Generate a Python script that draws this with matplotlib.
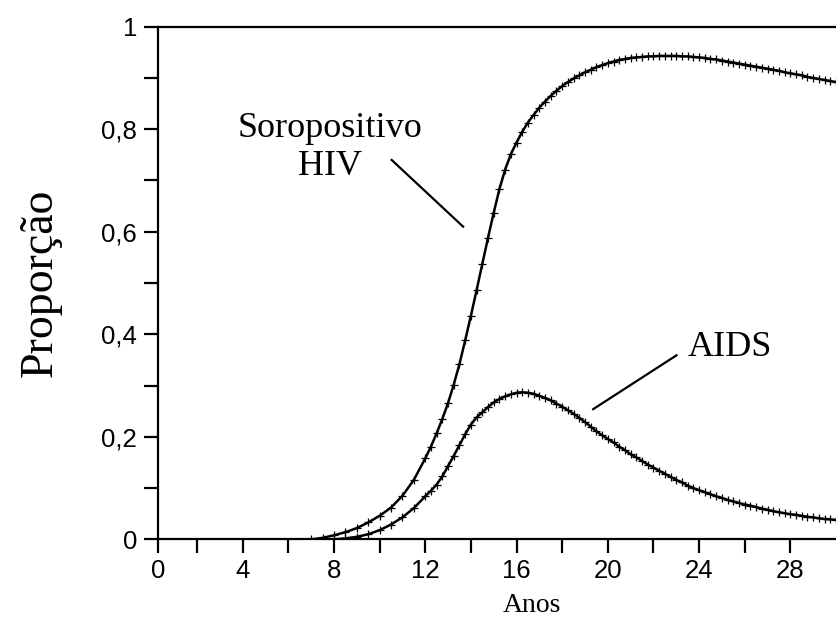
import matplotlib
matplotlib.use("Agg")
import matplotlib.pyplot as plt

# --- data (years, proportion) -----------------------------------------------
hiv_t = [0, 7.0, 7.5, 8.0, 8.5, 9.0, 9.5, 10.0, 10.5, 11.0, 11.5,
         12.0, 12.25, 12.5, 12.75, 13.0, 13.25, 13.5, 13.75, 14.0, 14.25,
         14.5, 14.75, 15.0, 15.25, 15.5, 15.75, 16.0, 16.25, 16.5, 16.75,
         17.0, 17.25, 17.5, 17.75, 18.0, 18.25, 18.5, 18.75, 19.0, 19.25,
         19.5, 19.75, 20.0, 20.25, 20.5, 20.75, 21.0, 21.25, 21.5, 21.75,
         22.0, 22.25, 22.5, 22.75, 23.0, 23.25, 23.5, 23.75, 24.0, 24.25,
         24.5, 24.75, 25.0, 25.25, 25.5, 25.75, 26.0, 26.25, 26.5, 26.75,
         27.0, 27.25, 27.5, 27.75, 28.0, 28.25, 28.5, 28.75, 29.0, 29.25,
         29.5, 29.75, 30.0]
hiv_v = [0.0, 0.0, 0.003, 0.008, 0.014, 0.022, 0.033, 0.046, 0.062, 0.085, 0.116,
         0.158, 0.181, 0.207, 0.235, 0.266, 0.302, 0.342, 0.388, 0.436, 0.486,
         0.537, 0.588, 0.637, 0.683, 0.721, 0.751, 0.774, 0.795, 0.813, 0.828,
         0.842, 0.854, 0.865, 0.875, 0.884, 0.892, 0.899, 0.905, 0.911, 0.916,
         0.921, 0.925, 0.929, 0.932, 0.935, 0.937, 0.939, 0.940, 0.941, 0.942,
         0.942, 0.943, 0.943, 0.943, 0.943, 0.942, 0.942, 0.941, 0.940, 0.939,
         0.937, 0.936, 0.934, 0.932, 0.930, 0.928, 0.926, 0.924, 0.922, 0.920,
         0.918, 0.916, 0.914, 0.911, 0.909, 0.907, 0.905, 0.902, 0.900, 0.898,
         0.896, 0.894, 0.892]

aids_t = [0, 8.0, 8.5, 9.0, 9.5, 10.0, 10.5, 11.0, 11.5,
          12.0, 12.25, 12.5, 12.75, 13.0, 13.25, 13.5, 13.75, 14.0, 14.25,
          14.5, 14.75, 15.0, 15.25, 15.5, 15.75, 16.0, 16.25, 16.5, 16.75,
          17.0, 17.25, 17.5, 17.75, 18.0, 18.25, 18.5, 18.75, 19.0, 19.25,
          19.5, 19.75, 20.0, 20.25, 20.5, 20.75, 21.0, 21.25, 21.5, 21.75,
          22.0, 22.25, 22.5, 22.75, 23.0, 23.25, 23.5, 23.75, 24.0, 24.25,
          24.5, 24.75, 25.0, 25.25, 25.5, 25.75, 26.0, 26.25, 26.5, 26.75,
          27.0, 27.25, 27.5, 27.75, 28.0, 28.25, 28.5, 28.75, 29.0, 29.25,
          29.5, 29.75, 30.0]
aids_v = [0.0, 0.0, 0.002, 0.005, 0.010, 0.018, 0.029, 0.043, 0.061,
          0.084, 0.095, 0.107, 0.123, 0.143, 0.163, 0.184, 0.205, 0.224, 0.238,
          0.248, 0.258, 0.267, 0.274, 0.279, 0.283, 0.286, 0.287, 0.286, 0.284,
          0.280, 0.276, 0.271, 0.265, 0.259, 0.252, 0.245, 0.237, 0.229, 0.220,
          0.211, 0.203, 0.196, 0.189, 0.181, 0.174, 0.166, 0.160, 0.153, 0.146,
          0.140, 0.134, 0.128, 0.122, 0.116, 0.111, 0.105, 0.100, 0.096, 0.092,
          0.088, 0.084, 0.081, 0.077, 0.074, 0.071, 0.068, 0.066, 0.063, 0.060,
          0.058, 0.055, 0.053, 0.051, 0.049, 0.048, 0.046, 0.044, 0.043, 0.041,
          0.040, 0.039, 0.038]

x_major = [0, 4, 8, 12, 16, 20, 24, 28]
x_minor = [2, 6, 10, 14, 18, 22, 26]
y_major = [0, 0.2, 0.4, 0.6, 0.8, 1.0]
y_labels = ["0", "0,2", "0,4", "0,6", "0,8", "1"]

XMIN, XMAX = 0.29, 30.0

SANS = "Liberation Sans"
SERIF = "Liberation Serif"

fig = plt.figure(figsize=(8.36, 6.2), dpi=100)
ax = fig.add_axes([0.189, 0.13, 0.811, 0.827])

style = dict(color="black", lw=1.8, marker="+", ms=6, mew=0.9)
ax.plot(hiv_t, hiv_v, **style)
ax.plot(aids_t, aids_v, **style)

ax.set_xlim(XMIN, XMAX)
ax.set_ylim(0, 1)

# the first major tick sits on the left spine, labelled "0"
xt = [XMIN] + x_major[1:]
ax.set_xticks(xt, [str(v) for v in x_major], fontfamily=SANS, fontsize=18.5)
ax.set_xticks(x_minor, minor=True)
ax.set_yticks(y_major, y_labels, fontfamily=SANS, fontsize=18.5)
ax.set_yticks([0.1, 0.3, 0.5, 0.7, 0.9], minor=True)

ax.tick_params(which="both", direction="out", length=10, width=1.6, color="black")
ax.tick_params(axis="x", pad=4)
ax.tick_params(axis="y", pad=5)

for s in ["left", "bottom", "top"]:
    ax.spines[s].set_linewidth(1.6)
ax.spines["right"].set_visible(False)

ax.set_xlabel("Anos", fontfamily=SERIF, fontsize=20)
ax.xaxis.set_label_coords(0.552, -0.104)
ax.set_ylabel("Proporção", fontfamily=SERIF, fontsize=33)
ax.yaxis.set_label_coords(-0.142, 0.5)

# curve labels with leader lines
ax.text(7.81, 0.785, "Soropositivo", fontfamily=SERIF, fontsize=26, ha="center", va="baseline")
ax.text(7.81, 0.710, "HIV", fontfamily=SERIF, fontsize=26, ha="center", va="baseline")
ax.plot([10.53, 13.66], [0.740, 0.610], color="black", lw=1.6)

ax.text(25.33, 0.3575, "AIDS", fontfamily=SERIF, fontsize=26, ha="center", va="baseline")
ax.plot([23.01, 19.36], [0.359, 0.254], color="black", lw=1.6)

fig.savefig("out.png", dpi=100)
